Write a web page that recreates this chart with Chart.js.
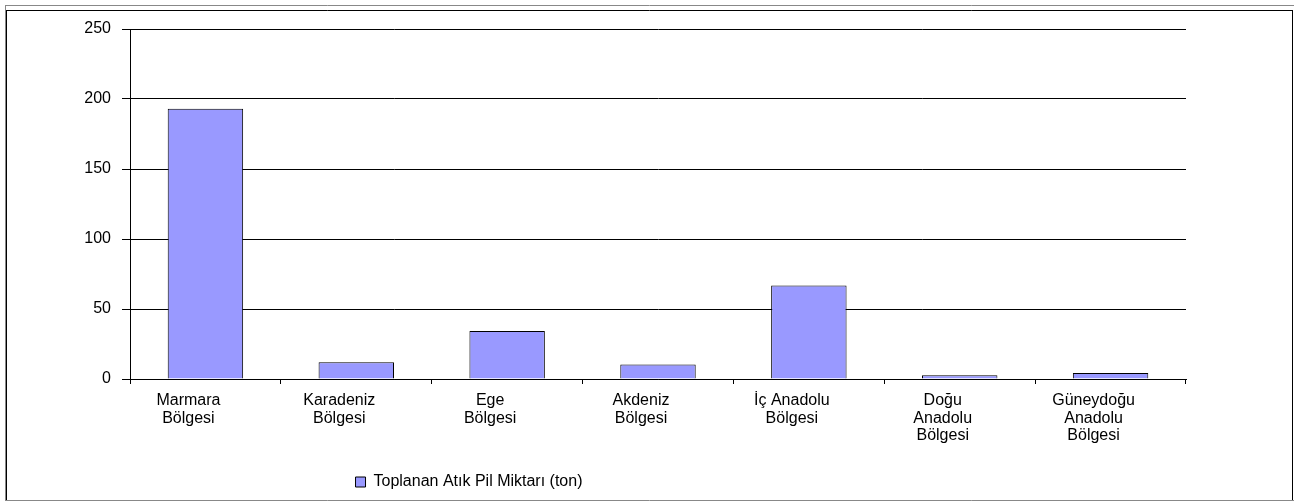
<!DOCTYPE html>
<html lang="tr">
<head>
<meta charset="utf-8">
<title>Toplanan Atık Pil Miktarı</title>
<script src="https://cdn.jsdelivr.net/npm/chart.js@4/dist/chart.umd.min.js"></script>
<style>
  html, body { margin: 0; padding: 0; background: #fff; }
  #chart { display: block; }
</style>
</head>
<body>
<canvas id="chart" width="1302" height="503"></canvas>
<script>
// Regions (multi-line labels) and collected waste battery amounts (ton)
const regions = [
  ["Marmara", "Bölgesi"],
  ["Karadeniz", "Bölgesi"],
  ["Ege", "Bölgesi"],
  ["Akdeniz", "Bölgesi"],
  ["İç Anadolu", "Bölgesi"],
  ["Doğu", "Anadolu", "Bölgesi"],
  ["Güneydoğu", "Anadolu", "Bölgesi"],
];
const tonnage = [193, 12, 34.3, 10.4, 66.7, 2.6, 4.3];
const seriesLabel = "Toplanan Atık Pil Miktarı (ton)";
const yTicks = [0, 50, 100, 150, 200, 250];

const FONT = "'Liberation Sans', Arial, sans-serif";

// white page with the double top rule and outer frame
const framePlugin = {
  id: "frame",
  beforeDraw(chart) {
    const ctx = chart.ctx;
    ctx.save();
    ctx.fillStyle = "#fff";
    ctx.fillRect(0, 0, chart.width, chart.height);
    ctx.lineWidth = 1;
    ctx.strokeStyle = "#888";
    ctx.beginPath();
    ctx.moveTo(5, 5.5);
    ctx.lineTo(1294, 5.5);
    ctx.moveTo(5.5, 5);
    ctx.lineTo(5.5, 501);
    ctx.moveTo(5, 500.5);
    ctx.lineTo(1294, 500.5);
    ctx.stroke();
    ctx.strokeStyle = "#000";
    ctx.beginPath();
    ctx.moveTo(6, 10.5);
    ctx.lineTo(1293, 10.5);
    ctx.moveTo(6.5, 10);
    ctx.lineTo(6.5, 500);
    ctx.moveTo(1292.5, 10);
    ctx.lineTo(1292.5, 500);
    ctx.stroke();
    ctx.restore();
  },
};

// legend sits left of centre, under the first few regions
const legendShift = {
  id: "legendShift",
  afterLayout(chart) {
    if (!chart.legend) return;
    chart.legend.left -= 124;
    chart.legend.right -= 124;
  },
};

new Chart(document.getElementById("chart"), {
  type: "bar",
  data: {
    labels: regions,
    datasets: [
      {
        label: seriesLabel,
        data: tonnage,
        backgroundColor: "#9999FF",
        borderColor: "#000",
        borderWidth: 1,
        categoryPercentage: 0.5,
        barPercentage: 1.0,
      },
    ],
  },
  options: {
    responsive: false,
    animation: false,
    devicePixelRatio: 1,
    layout: { padding: { left: 0, right: 116, top: 29, bottom: 3 } },
    plugins: {
      tooltip: { enabled: false },
      legend: {
        position: "bottom",
        labels: {
          color: "#000",
          font: { family: FONT, size: 16 },
          boxWidth: 10,
          boxHeight: 10,
          padding: 10,
        },
      },
    },
    scales: {
      x: {
        grid: {
          offset: true,
          drawOnChartArea: false,
          color: "#000",
          tickLength: 5,
        },
        border: { color: "#000" },
        ticks: {
          color: "#000",
          font: { family: FONT, size: 16, lineHeight: 1.1 },
          padding: 8,
          labelOffset: -17,
          maxRotation: 0,
          autoSkip: false,
        },
        afterFit(scale) {
          scale.height = 85;
        },
      },
      y: {
        min: 0,
        max: 250,
        afterBuildTicks(scale) {
          scale.ticks = yTicks.map((v) => ({ value: v }));
        },
        grid: { color: "#000", tickLength: 8 },
        border: { color: "#000" },
        ticks: {
          color: "#000",
          font: { family: FONT, size: 16 },
          padding: 11,
        },
        afterFit(scale) {
          scale.width = 130;
        },
      },
    },
  },
  plugins: [framePlugin, legendShift],
});
</script>
</body>
</html>
